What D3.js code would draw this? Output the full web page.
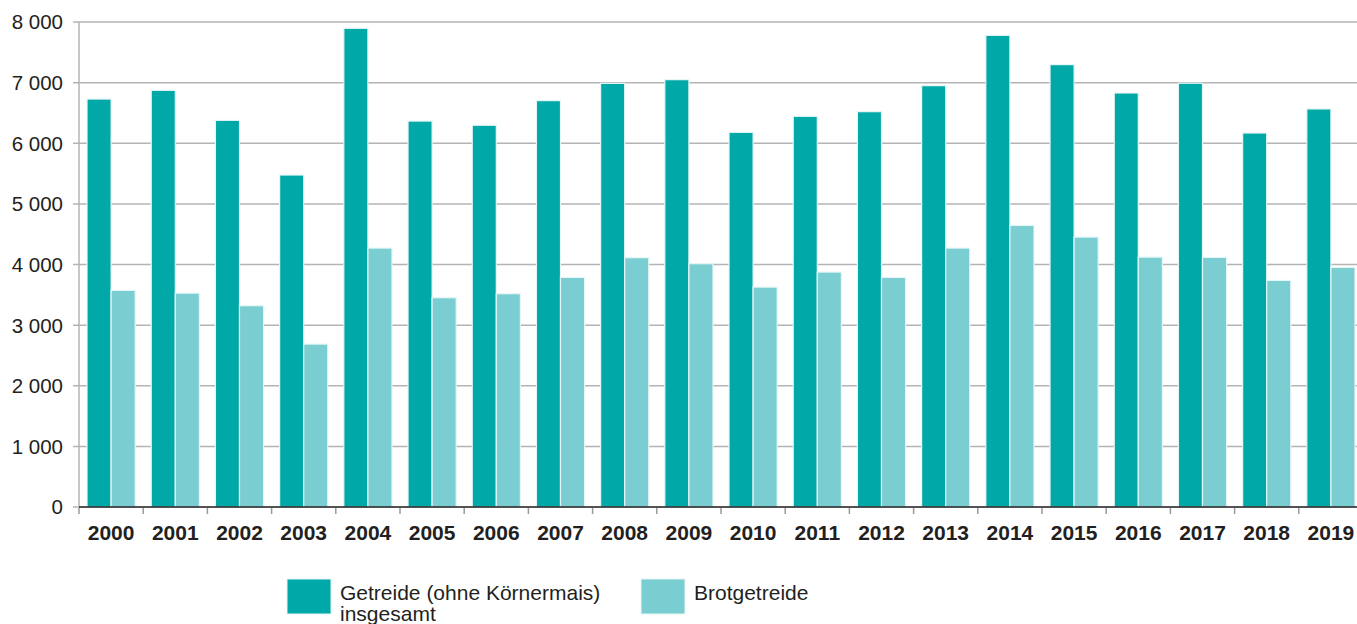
<!DOCTYPE html>
<html>
<head>
<meta charset="utf-8">
<script src="https://cdn.jsdelivr.net/npm/d3@7"></script>
<style>
	body { margin: 0; background: #fff; }
	svg { display: block; font-family: "Liberation Sans", Arial, sans-serif; }
</style>
</head>
<body>
<div id="vizHolder"></div>
<script>
// values (1 000 t)
var years = ['2000','2001','2002','2003','2004','2005','2006','2007','2008','2009',
	'2010','2011','2012','2013','2014','2015','2016','2017','2018','2019'];
var getreide = [6729, 6873, 6378, 5476, 7896, 6366, 6297, 6703, 6988, 7049,
	6180, 6444, 6521, 6950, 7780, 7297, 6829, 6990, 6169, 6566];
var brotgetreide = [3573, 3528, 3320, 2687, 4271, 3452, 3518, 3787, 4112, 4013,
	3627, 3875, 3787, 4271, 4645, 4452, 4122, 4117, 3738, 3952];
var yTicks = [0, 1000, 2000, 3000, 4000, 5000, 6000, 7000, 8000];
var seriesNames = ['Getreide (ohne Körnermais)|insgesamt', 'Brotgetreide'];
var colors = ['#00a8a8', '#7acdd0'];

drawViz();

function drawViz() {
	var width = 1357, height = 624,
		plotLeft = 79, plotRight = 1363, plotTop = 22, plotBottom = 507;

	var svg = d3.select('#vizHolder').append('svg')
		.attr('width', width)
		.attr('height', height);

	var x0 = d3.scaleBand()
		.domain(years)
		.range([plotLeft, plotRight])
		.paddingInner(0.25)
		.paddingOuter(0.125);

	var x1 = d3.scaleBand()
		.domain([0, 1])
		.range([0, x0.bandwidth()]);

	var y = d3.scaleLinear()
		.domain([0, 8000])
		.range([plotBottom, plotTop]);

	var fmt = function(d) { return d3.format(',')(d).replace(',', ' '); };

	//gridlines + y labels
	var grid = svg.append('g');
	grid.selectAll('line')
		.data(yTicks.filter(function(d) { return d > 0; }))
		.enter().append('line')
		.attr('x1', plotLeft - 6)
		.attr('x2', width)
		.attr('y1', function(d) { return y(d); })
		.attr('y2', function(d) { return y(d); })
		.attr('stroke', '#b4b4b4')
		.attr('stroke-width', 1.5);

	grid.append('line')
		.attr('x1', plotLeft).attr('x2', plotLeft)
		.attr('y1', plotTop).attr('y2', plotBottom)
		.attr('stroke', '#b4b4b4')
		.attr('stroke-width', 1.5);

	grid.selectAll('text')
		.data(yTicks)
		.enter().append('text')
		.attr('x', 63)
		.attr('y', function(d) { return y(d); })
		.attr('dy', '0.36em')
		.attr('text-anchor', 'end')
		.attr('font-size', '20.5px')
		.attr('fill', '#231f20')
		.text(fmt);

	//bars
	var rows = years.map(function(yr, i) { return { year: yr, vals: [getreide[i], brotgetreide[i]] }; });

	var groups = svg.append('g').selectAll('g')
		.data(rows)
		.enter().append('g')
		.attr('transform', function(d) { return 'translate(' + x0(d.year) + ',0)'; });

	groups.selectAll('rect')
		.data(function(d) { return d.vals; })
		.enter().append('rect')
		.attr('x', function(d, i) { return x1(i); })
		.attr('width', x1.bandwidth())
		.attr('y', function(d) { return y(d); })
		.attr('height', function(d) { return y(0) - y(d); })
		.attr('fill', function(d, i) { return colors[i]; })
		.attr('stroke', '#e6f6f6')
		.attr('stroke-width', 1.2);

	//x axis
	var step = x0.step();
	var xAxis = svg.append('g');
	xAxis.append('line')
		.attr('x1', plotLeft).attr('x2', width)
		.attr('y1', y(0)).attr('y2', y(0))
		.attr('stroke', '#1a1a1a')
		.attr('stroke-width', 1.6);
	xAxis.append('line')
		.attr('x1', plotLeft - 6).attr('x2', plotLeft)
		.attr('y1', y(0)).attr('y2', y(0))
		.attr('stroke', '#b4b4b4')
		.attr('stroke-width', 1.5);

	xAxis.selectAll('.tick')
		.data(years)
		.enter().append('line')
		.attr('class', 'tick')
		.attr('x1', function(d) { return x0(d) - step * 0.125; })
		.attr('x2', function(d) { return x0(d) - step * 0.125; })
		.attr('y1', y(0) + 1)
		.attr('y2', y(0) + 7)
		.attr('stroke', '#9a9a9a')
		.attr('stroke-width', 1.5);

	xAxis.selectAll('text')
		.data(years)
		.enter().append('text')
		.attr('x', function(d) { return x0(d) + x0.bandwidth() / 2; })
		.attr('y', 540)
		.attr('text-anchor', 'middle')
		.attr('font-size', '21px')
		.attr('font-weight', 'bold')
		.attr('fill', '#231f20')
		.text(function(d) { return d; });

	//legend
	var legendX = [287, 641];
	var legend = svg.append('g').selectAll('g')
		.data(seriesNames)
		.enter().append('g')
		.attr('transform', function(d, i) { return 'translate(' + legendX[i] + ',579)'; });

	legend.append('rect')
		.attr('width', 44)
		.attr('height', 35)
		.attr('fill', function(d, i) { return colors[i]; })
		.attr('stroke', '#e6f6f6')
		.attr('stroke-width', 1);

	legend.append('text')
		.attr('font-size', '21px')
		.attr('fill', '#231f20')
		.selectAll('tspan')
		.data(function(d) { return d.split('|'); })
		.enter().append('tspan')
		.attr('x', 53)
		.attr('y', function(d, i) { return 21 + i * 21; })
		.text(function(d) { return d; });
}
</script>
</body>
</html>
